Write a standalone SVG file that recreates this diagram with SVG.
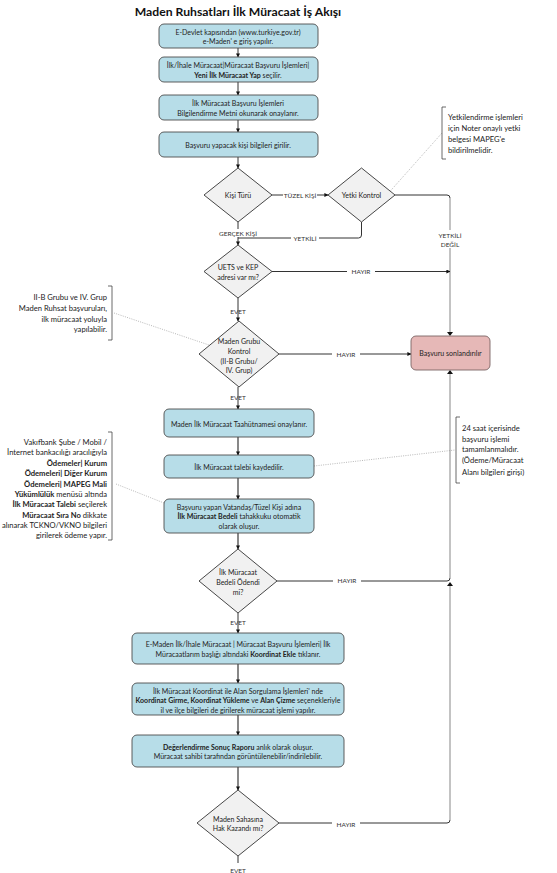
<svg xmlns="http://www.w3.org/2000/svg" width="557" height="873" viewBox="0 0 557 873">
<style>
text{font-family:Lato,"Liberation Sans",sans-serif;fill:#222;}
.t{font-size:7px;text-anchor:middle;dominant-baseline:central;}
.ann{font-size:7.6px;dominant-baseline:central;}
.lbl{font-size:6.5px;text-anchor:middle;dominant-baseline:central;fill:#333;}
.title{font-size:12.2px;font-weight:bold;text-anchor:middle;fill:#111;}
.b{font-weight:bold;}
.box{fill:#b7dde8;stroke:#4d4d4d;stroke-width:0.9;}
.end{fill:#e6b8b7;stroke:#7a6464;stroke-width:0.9;}
.dia{fill:#f1f1f1;stroke:#333;stroke-width:0.9;}
.c{fill:none;stroke:#333;stroke-width:1;}
.c2{fill:none;stroke:#555;stroke-width:1.4;}
.g{fill:none;stroke:#bdbdbd;stroke-width:1.8;}
.dot{fill:none;stroke:#999;stroke-width:0.7;stroke-dasharray:1 1.3;}
.br{fill:none;stroke:#444;stroke-width:0.8;}
.wb{fill:#fff;}
</style>
<defs>
<marker id="ar" viewBox="0 0 10 10" refX="9" refY="5" markerWidth="4" markerHeight="4" markerUnits="userSpaceOnUse" orient="auto">
<path d="M0,0 L10,5 L0,10 z" fill="#111"/>
</marker>
</defs>

<text class="title" x="238" y="16">Maden Ruhsatları İlk Müracaat İş Akışı</text>

<g id="connectors">
<path class="c" d="M238,48 V57" marker-end="url(#ar)"/>
<path class="c" d="M238,82 V95" marker-end="url(#ar)"/>
<path class="c" d="M238,120 V132" marker-end="url(#ar)"/>
<path class="c" d="M238,157 V168" marker-end="url(#ar)"/>
<path class="c" d="M272,195 H328" marker-end="url(#ar)"/>
<path class="c" d="M238,222 V245" marker-end="url(#ar)"/>
<path class="c" d="M361.5,222 V235 Q361.5,238 358.5,238 H238"/>
<path class="c" d="M395,195 H447 Q450,195 450,198"/>
<path class="g" d="M450,198 V333"/>
<path d="M447,332 L453,332 L450,336 z" fill="#111"/>
<path class="c" d="M272,271.5 H450" marker-end="url(#ar)"/>
<path class="c" d="M238,298 V321" marker-end="url(#ar)"/>
<path class="c" d="M279,354 H411" marker-end="url(#ar)"/>
<path class="c" d="M238,387 V409" marker-end="url(#ar)"/>
<path class="c2" d="M238,437 V455" marker-end="url(#ar)"/>
<path class="c2" d="M238,478 V499" marker-end="url(#ar)"/>
<path class="c2" d="M238,533 V549" marker-end="url(#ar)"/>
<path class="c" d="M277,581 H447 Q450,581 450,578"/>
<path class="g" d="M450,578 V373"/>
<path d="M447,374 L453,374 L450,370 z" fill="#111"/>
<path class="c" d="M238,613 V633" marker-end="url(#ar)"/>
<path class="c2" d="M238,664 V683" marker-end="url(#ar)"/>
<path class="c2" d="M238,715 V735" marker-end="url(#ar)"/>
<path class="c2" d="M238,767 V790" marker-end="url(#ar)"/>
<path class="c" d="M279,823 H447 Q450,823 450,820"/>
<path class="g" d="M450,820 V586"/>
<path d="M447,586 L453,586 L450,582 z" fill="#111"/>
<path class="c" d="M238,856 V863"/>
<path class="dot" d="M442,133 L385,197"/>
<path class="dot" d="M114,313 L209,345"/>
<path class="dot" d="M116,484 L164,503"/>
<path class="dot" d="M314,466 L455,450"/>

<rect class="wb" x="283" y="191" width="34" height="8"/>
<text class="lbl" x="300" y="195">TÜZEL KİŞİ</text>
<rect class="wb" x="218" y="229" width="40" height="8"/>
<text class="lbl" x="238" y="233">GERÇEK KİŞİ</text>
<rect class="wb" x="291" y="234" width="28" height="8"/>
<text class="lbl" x="305" y="238.5">YETKİLİ</text>
<rect class="wb" x="437" y="230" width="26" height="18"/>
<text class="lbl" x="450" y="235">YETKİLİ</text>
<text class="lbl" x="450" y="244">DEĞİL</text>
<rect class="wb" x="347" y="267.5" width="28" height="8"/>
<text class="lbl" x="361" y="271.5">HAYIR</text>
<text class="lbl" x="238" y="311">EVET</text>
<rect class="wb" x="332" y="350" width="28" height="8"/>
<text class="lbl" x="346" y="354">HAYIR</text>
<text class="lbl" x="238" y="397">EVET</text>
<rect class="wb" x="333" y="577" width="28" height="8"/>
<text class="lbl" x="347" y="580">HAYIR</text>
<text class="lbl" x="238" y="622">EVET</text>
<rect class="wb" x="332" y="819" width="28" height="8"/>
<text class="lbl" x="346" y="824">HAYIR</text>
<text class="lbl" x="238" y="870">EVET</text>
</g>

<g id="n1">
<rect class="box" x="159" y="24" width="159" height="24" rx="5"/>
<text class="t" x="238" y="31.5">E-Devlet kapısından (www.turkiye.gov.tr)</text>
<text class="t" x="238" y="41">e-Maden' e giriş yapılır.</text>
</g>
<g id="n2">
<rect class="box" x="159" y="57" width="159" height="25" rx="5"/>
<text class="t" x="238" y="65">İlk/İhale Müracaat|Müracaat Başvuru İşlemleri|</text>
<text class="t" x="238" y="74.5"><tspan class="b">Yeni İlk Müracaat Yap</tspan> seçilir.</text>
</g>
<g id="n3">
<rect class="box" x="159" y="95" width="159" height="25" rx="5"/>
<text class="t" x="238" y="103">İlk Müracaat Başvuru İşlemleri</text>
<text class="t" x="238" y="112.5">Bilgilendirme Metni okunarak onaylanır.</text>
</g>
<g id="n4">
<rect class="box" x="159" y="132" width="159" height="25" rx="5"/>
<text class="t" x="238" y="145">Başvuru yapacak kişi bilgileri girilir.</text>
</g>
<g id="d1">
<polygon class="dia" points="238,168 272,195 238,222 204,195"/>
<text class="t" x="238" y="195">Kişi Türü</text>
</g>
<g id="d2">
<polygon class="dia" points="361.5,168 395,195 361.5,222 328,195"/>
<text class="t" x="361.5" y="195">Yetki Kontrol</text>
</g>
<g id="d3">
<polygon class="dia" points="238,245 272,271.5 238,298 204,271.5"/>
<text class="t" x="238" y="267">UETS ve KEP</text>
<text class="t" x="238" y="276.5">adresi var mı?</text>
</g>
<g id="d4">
<polygon class="dia" points="239,321 279,354 239,387 199,354"/>
<text class="t" x="239" y="340.5">Maden Grubu</text>
<text class="t" x="239" y="350.5">Kontrol</text>
<text class="t" x="239" y="360.5">(II-B Grubu/</text>
<text class="t" x="239" y="370">IV. Grup)</text>
</g>
<g id="n5">
<rect class="end" x="411" y="336" width="79" height="34" rx="5"/>
<text class="t" x="450.5" y="353">Başvuru sonlandırılır</text>
</g>
<g id="n6">
<rect class="box" x="164" y="409" width="150" height="28" rx="5"/>
<text class="t" x="239" y="423.5">Maden İlk Müracaat Taahütnamesi onaylanır.</text>
</g>
<g id="n7">
<rect class="box" x="164" y="455" width="150" height="23" rx="5"/>
<text class="t" x="239" y="466.5">İlk Müracaat talebi kaydedilir.</text>
</g>
<g id="n8">
<rect class="box" x="164" y="499" width="150" height="34" rx="5"/>
<text class="t" x="239" y="506.5">Başvuru yapan Vatandaş/Tüzel Kişi adına</text>
<text class="t" x="239" y="516"><tspan class="b">İlk Müracaat Bedeli</tspan> tahakkuku otomatik</text>
<text class="t" x="239" y="525.5">olarak oluşur.</text>
</g>
<g id="d5">
<polygon class="dia" points="238,549 277,581 238,613 199,581"/>
<text class="t" x="238" y="572">İlk Müracaat</text>
<text class="t" x="238" y="582">Bedeli Ödendi</text>
<text class="t" x="238" y="592">mi?</text>
</g>
<g id="n9">
<rect class="box" x="132" y="633" width="212" height="31" rx="5"/>
<text class="t" x="238" y="644">E-Maden İlk/İhale Müracaat | Müracaat Başvuru İşlemleri| İlk</text>
<text class="t" x="238" y="654">Müracaatlarım başlığı altındaki <tspan class="b">Koordinat Ekle</tspan> tıklanır.</text>
</g>
<g id="n10">
<rect class="box" x="132" y="683" width="212" height="32" rx="5"/>
<text class="t" x="238" y="690.5">İlk Müracaat Koordinat ile Alan Sorgulama İşlemleri' nde</text>
<text class="t" x="238" y="700"><tspan class="b">Koordinat Girme, Koordinat Yükleme</tspan> ve <tspan class="b">Alan Çizme</tspan> seçenekleriyle</text>
<text class="t" x="238" y="709.5">il ve ilçe bilgileri de girilerek müracaat işlemi yapılır.</text>
</g>
<g id="n11">
<rect class="box" x="132" y="735" width="212" height="32" rx="5"/>
<text class="t" x="238" y="746.5"><tspan class="b">Değerlendirme Sonuç Raporu</tspan> anlık olarak oluşur.</text>
<text class="t" x="238" y="756">Müracaat sahibi tarafından görüntülenebilir/indirilebilir.</text>
</g>
<g id="d6">
<polygon class="dia" points="238,790 279,823 238,856 197,823"/>
<text class="t" x="238" y="818.5">Maden Sahasına</text>
<text class="t" x="238" y="828">Hak Kazandı mı?</text>
</g>

<g id="a1">
<path class="br" d="M446,107 H442 V159 H446"/>
<text class="ann" x="448" y="117">Yetkilendirme işlemleri</text>
<text class="ann" x="448" y="128">için Noter onaylı yetki</text>
<text class="ann" x="448" y="139">belgesi MAPEG'e</text>
<text class="ann" x="448" y="149.5">bildirilmelidir.</text>
</g>
<g id="a2">
<path class="br" d="M108,286 H112 V340 H108"/>
<text class="ann" x="107" y="297" text-anchor="end">II-B Grubu ve IV. Grup</text>
<text class="ann" x="107" y="308" text-anchor="end">Maden Ruhsat başvuruları,</text>
<text class="ann" x="107" y="318.5" text-anchor="end">ilk müracaat yoluyla</text>
<text class="ann" x="107" y="329" text-anchor="end">yapılabilir.</text>
</g>
<g id="a3">
<path class="br" d="M460,417 H456 V483 H460"/>
<text class="ann" x="462" y="428">24 saat içerisinde</text>
<text class="ann" x="462" y="438.5">başvuru işlemi</text>
<text class="ann" x="462" y="449">tamamlanmalıdır.</text>
<text class="ann" x="462" y="460">(Ödeme/Müracaat</text>
<text class="ann" x="462" y="472">Alanı bilgileri girişi)</text>
</g>
<g id="a4">
<path class="br" d="M108,432 H112 V540 H108"/>
<text class="ann" x="107" y="442" text-anchor="end">Vakıfbank Şube / Mobil /</text>
<text class="ann" x="107" y="452" text-anchor="end">İnternet bankacılığı aracılığıyla</text>
<text class="ann b" x="107" y="462.5" text-anchor="end">Ödemeler| Kurum</text>
<text class="ann b" x="107" y="473" text-anchor="end">Ödemeleri| Diğer Kurum</text>
<text class="ann b" x="107" y="483.5" text-anchor="end">Ödemeleri| MAPEG Mali</text>
<text class="ann" x="107" y="494" text-anchor="end"><tspan class="b">Yükümlülük</tspan> menüsü altında</text>
<text class="ann" x="107" y="504" text-anchor="end"><tspan class="b">İlk Müracaat Talebi</tspan> seçilerek</text>
<text class="ann" x="107" y="514.5" text-anchor="end"><tspan class="b">Müracaat Sıra No</tspan> dikkate</text>
<text class="ann" x="107" y="525" text-anchor="end">alınarak TCKNO/VKNO bilgileri</text>
<text class="ann" x="107" y="535" text-anchor="end">girilerek ödeme yapır.</text>
</g>
</svg>
